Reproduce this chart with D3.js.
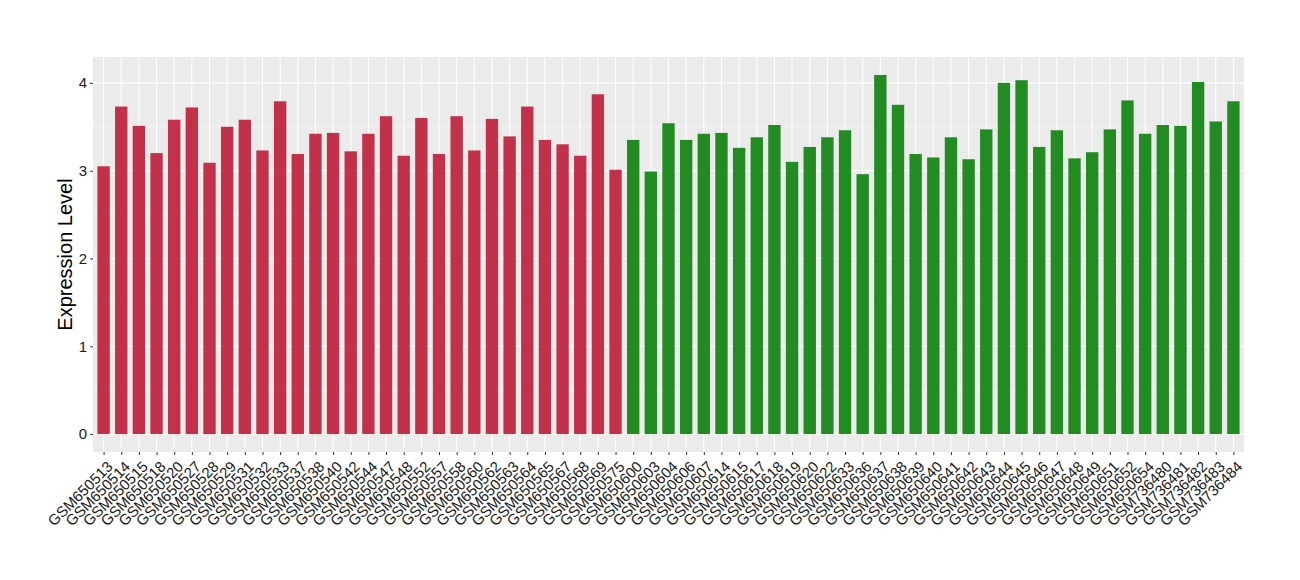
<!DOCTYPE html>
<html><head><meta charset="utf-8">
<script src="https://cdn.jsdelivr.net/npm/d3@7"></script>
<style>body{margin:0;background:#fff}svg{display:block}</style>
</head><body><svg id="c" width="1300" height="580"></svg>
<script>
const samples = ["GSM650513","GSM650514","GSM650515","GSM650518","GSM650520","GSM650527","GSM650528","GSM650529","GSM650531","GSM650532","GSM650533","GSM650537","GSM650538","GSM650540","GSM650542","GSM650544","GSM650547","GSM650548","GSM650552","GSM650557","GSM650558","GSM650560","GSM650562","GSM650563","GSM650564","GSM650565","GSM650567","GSM650568","GSM650569","GSM650575","GSM650600","GSM650603","GSM650604","GSM650606","GSM650607","GSM650614","GSM650615","GSM650617","GSM650618","GSM650619","GSM650620","GSM650622","GSM650633","GSM650636","GSM650637","GSM650638","GSM650639","GSM650640","GSM650641","GSM650642","GSM650643","GSM650644","GSM650645","GSM650646","GSM650647","GSM650648","GSM650649","GSM650651","GSM650652","GSM650654","GSM736480","GSM736481","GSM736482","GSM736483","GSM736484"];
const values = [3.05,3.73,3.51,3.20,3.58,3.72,3.09,3.50,3.58,3.23,3.79,3.19,3.42,3.43,3.22,3.42,3.62,3.17,3.60,3.19,3.62,3.23,3.59,3.39,3.73,3.35,3.30,3.17,3.87,3.01,3.35,2.99,3.54,3.35,3.42,3.43,3.26,3.38,3.52,3.10,3.27,3.38,3.46,2.96,4.09,3.75,3.19,3.15,3.38,3.13,3.47,4.00,4.03,3.27,3.46,3.14,3.21,3.47,3.80,3.42,3.52,3.51,4.01,3.56,3.79];
const groups = ["g1","g1","g1","g1","g1","g1","g1","g1","g1","g1","g1","g1","g1","g1","g1","g1","g1","g1","g1","g1","g1","g1","g1","g1","g1","g1","g1","g1","g1","g1","g2","g2","g2","g2","g2","g2","g2","g2","g2","g2","g2","g2","g2","g2","g2","g2","g2","g2","g2","g2","g2","g2","g2","g2","g2","g2","g2","g2","g2","g2","g2","g2","g2","g2","g2"];
const groupColors = {g1:"#C2314A", g2:"#228B22"};
const yTicks = [0,1,2,3,4];
const yMinor = [0.5,1.5,2.5,3.5];
const yTitle = "Expression Level";

const svg = d3.select("#c");
const L=93, R=1244, T=57, B=452;
const n = samples.length;
const maxV = d3.max(values);
const y = d3.scaleLinear().domain([-0.05*maxV, maxV*1.05]).range([B, T]);
const step = (R-L)/(n-1+1.2);
const x = d3.scalePoint().domain(samples).range([L+0.6*step, R-0.6*step]);
const bw = step*0.7;
const font = "Liberation Sans, Arial, sans-serif";

svg.append("rect").attr("x",L).attr("y",T).attr("width",R-L).attr("height",B-T).attr("fill","#EBEBEB");
const g = svg.append("g");
g.selectAll(".ym").data(yMinor).join("line").attr("x1",L).attr("x2",R)
 .attr("y1",d=>y(d)).attr("y2",d=>y(d)).attr("stroke","#fff").attr("stroke-width",0.55);
g.selectAll(".yM").data(yTicks).join("line").attr("x1",L).attr("x2",R)
 .attr("y1",d=>y(d)).attr("y2",d=>y(d)).attr("stroke","#fff").attr("stroke-width",1.1);
g.selectAll(".xM").data(samples).join("line").attr("y1",T).attr("y2",B)
 .attr("x1",d=>x(d)).attr("x2",d=>x(d)).attr("stroke","#fff").attr("stroke-width",1.1);

svg.selectAll(".bar").data(samples).join("rect")
 .attr("x",(d)=>x(d)-bw/2).attr("width",bw)
 .attr("y",(d,i)=>y(values[i])).attr("height",(d,i)=>y(0)-y(values[i]))
 .attr("fill",(d,i)=>groupColors[groups[i]]);

const ya = svg.append("g").attr("transform",`translate(${L},0)`)
 .call(d3.axisLeft(y).tickValues(yTicks).tickSize(3).tickPadding(3).tickFormat(d3.format("d")));
ya.select(".domain").remove();
ya.selectAll(".tick line").attr("stroke","#333");
ya.selectAll("text").attr("fill","#1a1a1a").style("font-family",font).style("font-size","15px");

const xa = svg.append("g").attr("transform",`translate(0,${B})`)
 .call(d3.axisBottom(x).tickSize(3).tickPadding(2));
xa.select(".domain").remove();
xa.selectAll(".tick line").attr("stroke","#333");
xa.selectAll("text").attr("fill","#1a1a1a").style("font-family",font).style("font-size","15px")
 .attr("text-anchor","end").attr("y",0)
 .attr("transform","translate(2,8) rotate(-45)").attr("dy","0.71em");

svg.append("text").attr("transform",`translate(72,${(T+B)/2}) rotate(-90)`)
 .attr("text-anchor","middle").style("font-family",font).style("font-size","20px")
 .attr("fill","#000").text(yTitle);
</script></body></html>
